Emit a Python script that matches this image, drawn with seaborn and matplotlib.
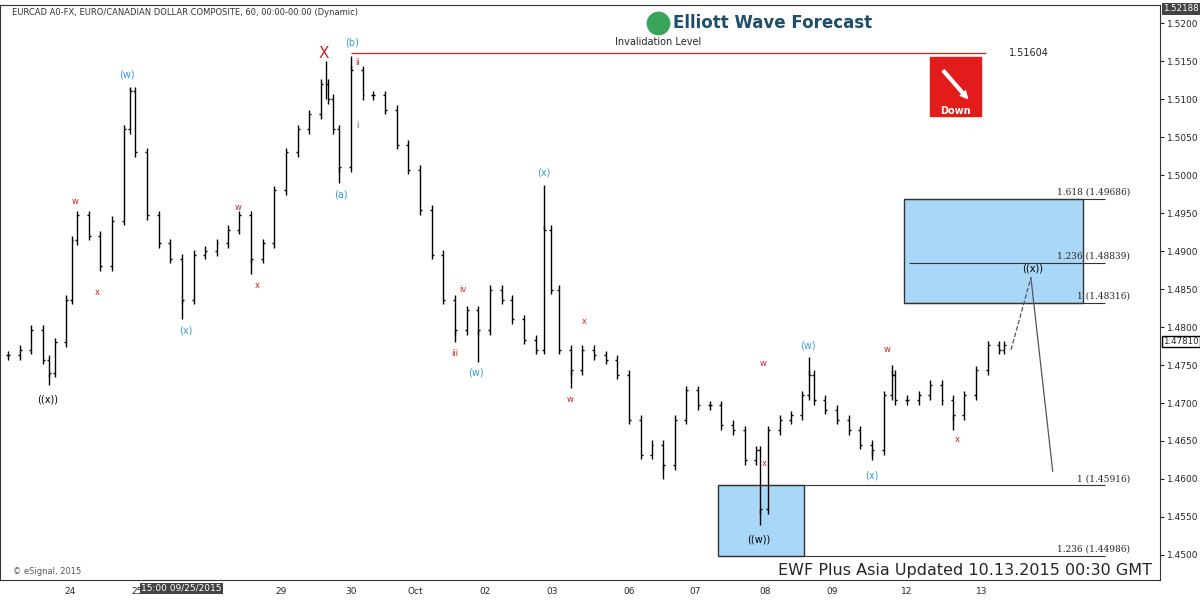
import matplotlib
matplotlib.use("Agg")
import matplotlib.pyplot as plt
import matplotlib.patches as patches
import seaborn as sns

sns.set_style("white")
plt.rcParams['font.family'] = ['DejaVu Sans']

# bar positions (chart x, px) and closing prices
bar_x = [0, 12, 23, 35, 41, 47, 58, 64, 70, 82, 93, 105, 117, 123, 128, 140, 152, 163, 175, 187,
         198, 210, 222, 233, 245, 257, 268, 280, 292, 303, 315, 322, 327, 333, 345, 357, 368, 380,
         392, 403, 415, 427, 438, 450, 462, 473, 485, 497, 508, 520, 532, 540, 547, 555, 567, 578,
         590, 602, 613, 625, 637, 648, 660, 672, 683, 695, 707, 718, 730, 742, 753, 757, 765, 777,
         788, 800, 807, 812, 823, 835, 847, 858, 870, 882, 890, 893, 905, 917, 928, 940, 952, 963,
         975, 987, 998, 1003]
closes = [1.4763, 1.4770, 1.4796, 1.4757, 1.4740, 1.4780, 1.4836, 1.4914, 1.4947, 1.4920, 1.4880,
          1.4940, 1.5060, 1.5110, 1.5030, 1.4947, 1.4910, 1.4890, 1.4836, 1.4895, 1.4900, 1.4910,
          1.4928, 1.4947, 1.4890, 1.4910, 1.4980, 1.5030, 1.5060, 1.5080, 1.5120, 1.5100, 1.5060,
          1.5010, 1.5138, 1.5105, 1.5105, 1.5086, 1.5040, 1.5007, 1.4954, 1.4895, 1.4836, 1.4796,
          1.4822, 1.4796, 1.4849, 1.4836, 1.4810, 1.4783, 1.4770, 1.4928, 1.4849, 1.4770, 1.4743,
          1.4770, 1.4763, 1.4757, 1.4737, 1.4678, 1.4632, 1.4645, 1.4618, 1.4678, 1.4717, 1.4697,
          1.4697, 1.4671, 1.4664, 1.4625, 1.4638, 1.4560, 1.4664, 1.4678, 1.4684, 1.4710, 1.4737,
          1.4704, 1.4691, 1.4678, 1.4664, 1.4645, 1.4638, 1.4710, 1.4737, 1.4704, 1.4704, 1.4710,
          1.4724, 1.4704, 1.4684, 1.4710, 1.4743, 1.4776, 1.4770, 1.4776]
# swing extremes (x, price)
spike_x = [41, 123, 175, 245, 320, 333, 345, 450, 473, 540, 567, 660, 757, 807, 870, 890, 952]
spike_p = [1.4724, 1.5115, 1.4810, 1.4870, 1.5150, 1.4990, 1.5157, 1.4780, 1.4754, 1.4987,
           1.4720, 1.4600, 1.4540, 1.4760, 1.4625, 1.4750, 1.4665]

day_labels = ["24", "25", "29", "30", "Oct", "02", "03", "06", "07", "08", "09", "12", "13"]
day_x = [62, 130, 275, 345, 410, 480, 548, 625, 692, 762, 830, 905, 980]

fib_levels = [1.49686, 1.48839, 1.48316, 1.45916, 1.44986]
fib_names = ["1.618 (1.49686)", "1.236 (1.48839)", "1 (1.48316)", "1 (1.45916)", "1.236 (1.44986)"]
invalidation = 1.51604

BLUE = "#3a9ad9"
RED = "#cc2222"

fig = plt.figure(figsize=(12, 6.11), dpi=100)
ax = fig.add_axes([0, 31 / 611, 1160 / 1200, 575 / 611])
ax.set_xlim(-8, 1160)
ax.set_ylim(1.44671, 1.52237)

# bars
prev = closes[0]
for x, c in zip(bar_x, closes):
    hi, lo = max(prev, c) + 0.0006, min(prev, c) - 0.0006
    ax.vlines(x, lo, hi, color="black", lw=1)
    ax.hlines(c, x, x + 2, color="black", lw=1)
    ax.hlines(prev, x - 2, x, color="black", lw=1)
    prev = c
for x, p in zip(spike_x, spike_p):
    i = min(range(len(bar_x)), key=lambda k: abs(bar_x[k] - x))
    ax.vlines(x, min(p, closes[i]), max(p, closes[i]), color="black", lw=1)

# boxes
ax.add_patch(patches.Rectangle((902, fib_levels[2]), 180, fib_levels[0] - fib_levels[2],
                               facecolor="#a9d7f7", edgecolor="#333333", lw=1))
ax.add_patch(patches.Rectangle((715, fib_levels[4]), 87, fib_levels[3] - fib_levels[4],
                               facecolor="#a9d7f7", edgecolor="#333333", lw=1))
ax.hlines(fib_levels[0], 902, 1105, color="#333333", lw=0.8)
ax.hlines(fib_levels[1], 907, 1105, color="#333333", lw=0.8)
ax.hlines(fib_levels[2], 902, 1105, color="#333333", lw=0.8)
ax.hlines(fib_levels[3], 715, 1105, color="#333333", lw=0.8)
ax.hlines(fib_levels[4], 715, 1105, color="#333333", lw=0.8)
for lv, nm in zip(fib_levels, fib_names):
    ax.text(1130, lv + 0.0003, nm, ha="right", va="bottom", fontsize=6.5, family="DejaVu Serif")

ax.hlines(invalidation, 345, 985, color=RED, lw=0.9)
ax.text(1008, invalidation, "1.51604", fontsize=7, va="center")
ax.text(655, invalidation + 0.0008, "Invalidation Level", fontsize=7, ha="center", va="bottom")

# projection
ax.plot([1010, 1030], [1.4770, 1.4865], color="#555555", lw=0.9, ls="--")
ax.plot([1030, 1052], [1.4865, 1.4610], color="#555555", lw=0.9)

# wave labels
labels = [
    (40, 1.4705, "((x))", "black", 7), (120, 1.5132, "(w)", BLUE, 7), (68, 1.4965, "w", RED, 6),
    (90, 1.4845, "x", RED, 6), (179, 1.4795, "(x)", BLUE, 7), (232, 1.4957, "w", RED, 6),
    (251, 1.4855, "x", RED, 6), (318, 1.5160, "X", RED, 11), (346, 1.5175, "(b)", BLUE, 7),
    (352, 1.5148, "ii", RED, 6), (352, 1.5065, "i", "#555555", 6), (335, 1.4975, "(a)", BLUE, 7),
    (458, 1.4850, "iv", RED, 6), (450, 1.4765, "iii", RED, 6), (471, 1.4740, "(w)", BLUE, 7),
    (540, 1.5003, "(x)", BLUE, 7), (580, 1.4807, "x", RED, 6), (566, 1.4705, "w", RED, 6),
    (760, 1.4752, "w", RED, 6), (762, 1.4620, "x", RED, 6), (756, 1.4520, "((w))", "black", 7),
    (806, 1.4776, "(w)", BLUE, 7), (885, 1.4770, "w", RED, 6), (870, 1.4605, "(x)", BLUE, 7),
    (956, 1.4652, "x", RED, 6), (1032, 1.4877, "((x))", "black", 7),
]
for x, y, t, col, fs in labels:
    ax.text(x, y, t, color=col, fontsize=fs, ha="center", va="center")

# down icon
ax.add_patch(patches.Rectangle((928, 1.5077), 52, 0.0078, facecolor="#e21b1b", edgecolor="#e21b1b"))
ax.annotate("", xy=(968, 1.5098), xytext=(940, 1.5140),
            arrowprops=dict(arrowstyle="simple", color="white"))
ax.text(954, 1.5084, "Down", color="white", fontsize=7, ha="center", va="center", weight="bold")

# header text
ax.text(4, 1.5214, "EURCAD A0-FX, EURO/CANADIAN DOLLAR COMPOSITE, 60, 00:00-00:00 (Dynamic)",
        fontsize=6, color="#333333", va="center")
ax.scatter([655], [1.5200], s=260, color="#3aa45a", zorder=3)
ax.text(670, 1.5200, "Elliott Wave Forecast", fontsize=12, weight="bold", color="#1d4e6e",
        ha="left", va="center")
ax.text(5, 1.4475, "© eSignal, 2015", fontsize=6, color="#555555")
ax.text(1152, 1.4479, "EWF Plus Asia Updated 10.13.2015 00:30 GMT", fontsize=11.5,
        ha="right", va="center")

# axes
ax.yaxis.tick_right()
ticks = [1.45 + 0.005 * i for i in range(15)]
ax.set_yticks(ticks)
ax.set_yticklabels([f"{t:.4f}" for t in ticks], fontsize=6.5)
ax.set_xticks(day_x)
ax.set_xticklabels(day_labels, fontsize=6.5)
ax.tick_params(length=3, pad=2)
for s in ax.spines.values():
    s.set_color("#333333")
ax.text(1163, 1.4781, "1.47810", fontsize=6.2, va="center",
        bbox=dict(facecolor="white", edgecolor="black", pad=1), clip_on=False)
ax.text(1163, 1.52188, "1.52188", fontsize=6.2, va="center", color="white",
        bbox=dict(facecolor="#444444", edgecolor="none", pad=1), clip_on=False)
ax.text(175, 1.4462, "15:00 09/25/2015", fontsize=6.5, color="white", ha="center", va="top",
        bbox=dict(facecolor="#444444", edgecolor="none", pad=1), clip_on=False)

fig.savefig("out.png", dpi=100)
